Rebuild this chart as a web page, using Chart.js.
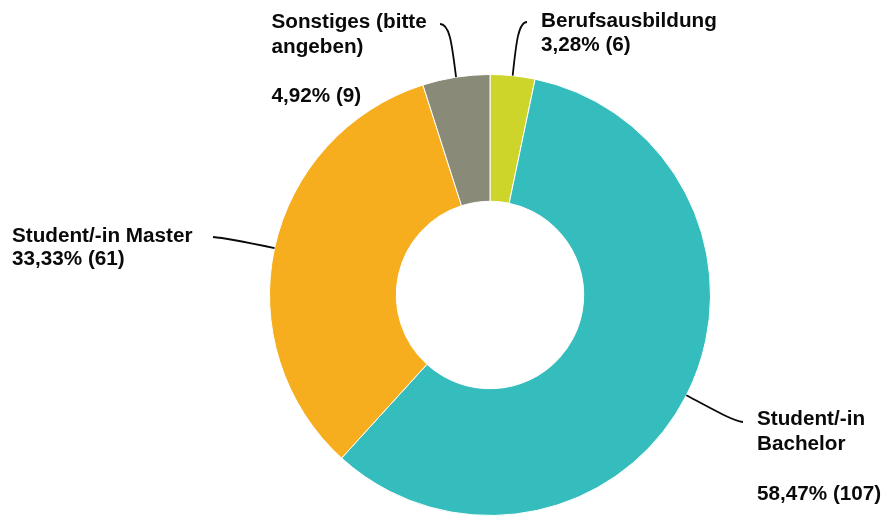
<!DOCTYPE html>
<html>
<head>
<meta charset="utf-8">
<script src="https://cdn.jsdelivr.net/npm/chart.js@4/dist/chart.umd.min.js"></script>
<style>
  html, body { margin: 0; padding: 0; background: #ffffff; }
  #wrap { position: relative; width: 883px; height: 517px; }
</style>
</head>
<body>
<div id="wrap"><canvas id="c"></canvas></div>
<script>
// ---- data ----
const categories = ['Berufsausbildung', 'Student/-in Bachelor', 'Student/-in Master', 'Sonstiges (bitte angeben)'];
const counts = [6, 107, 61, 9];
const sliceColors = ['#cdd52b', '#35bdbe', '#f6ae1f', '#8a8a79'];
// text lines of each label (percentage line appended from the data)
const labelTextLines = [
  ['Berufsausbildung'],
  ['Student/-in', 'Bachelor', ''],
  ['Student/-in Master'],
  ['Sonstiges (bitte', 'angeben)', '']
];

// ---- label layout (annotation placement) ----
const labelLayout = [
  { x: 541, y: 26.5, lh: 24, end: [527, 22], c1: [516, 45], c2: [518, 22] },
  { x: 757, y: 424.5, lh: 25, end: [743, 422], c1: [712, 409], c2: [733, 421] },
  { x: 12, y: 241.5, lh: 23.5, end: [213, 237], c1: [250, 243], c2: [225, 238] },
  { x: 271.5, y: 28, lh: 24.5, end: [440, 24], c1: [452, 45], c2: [450, 24] }
];

const total = counts.reduce((a, b) => a + b, 0);
function pctText(v) {
  return (v / total * 100).toFixed(2).replace('.', ',') + '% (' + v + ')';
}

const leaderLabels = {
  id: 'leaderLabels',
  afterDatasetsDraw(chart) {
    const ctx = chart.ctx;
    const meta = chart.getDatasetMeta(0);
    ctx.save();
    meta.data.forEach((arc, i) => {
      const p = arc.getProps(['x', 'y', 'startAngle', 'endAngle', 'outerRadius'], true);
      const mid = (p.startAngle + p.endAngle) / 2;
      const sx = p.x + Math.cos(mid) * p.outerRadius;
      const sy = p.y + Math.sin(mid) * p.outerRadius;
      const L = labelLayout[i];
      ctx.beginPath();
      ctx.moveTo(sx, sy);
      ctx.bezierCurveTo(L.c1[0], L.c1[1], L.c2[0], L.c2[1], L.end[0], L.end[1]);
      ctx.strokeStyle = '#0a0a0a';
      ctx.lineWidth = 1.8;
      ctx.stroke();

      const lines = labelTextLines[i].concat([pctText(counts[i])]);
      ctx.fillStyle = '#0a0a0a';
      ctx.font = 'bold 20.7px "Liberation Sans", Arial, sans-serif';
      ctx.textAlign = 'left';
      ctx.textBaseline = 'alphabetic';
      lines.forEach((t, k) => {
        if (t) ctx.fillText(t, L.x, L.y + k * L.lh);
      });
    });
    ctx.restore();
  }
};

new Chart(document.getElementById('c'), {
  type: 'doughnut',
  data: {
    labels: categories,
    datasets: [{
      data: counts,
      backgroundColor: sliceColors,
      borderColor: '#ffffff',
      borderWidth: 1,
      hoverOffset: 0
    }]
  },
  options: {
    responsive: true,
    maintainAspectRatio: false,
    animation: false,
    events: [],
    cutout: '42.5%',
    layout: { padding: { left: 269, right: 172, top: 74, bottom: 1 } },
    plugins: {
      legend: { display: false },
      tooltip: { enabled: false },
      title: { display: false }
    }
  },
  plugins: [leaderLabels]
});
</script>
</body>
</html>
